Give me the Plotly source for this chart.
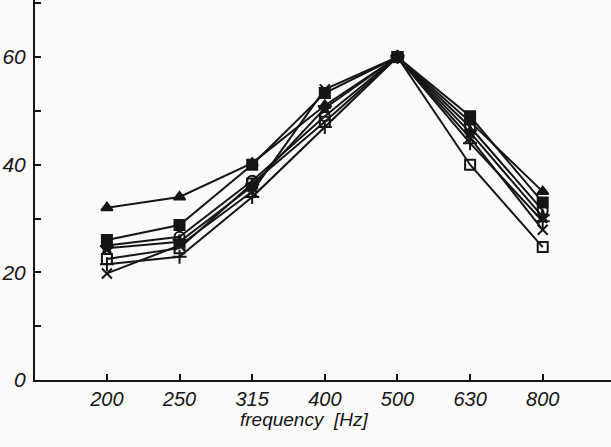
import plotly.graph_objects as go

freqs = ["200", "250", "315", "400", "500", "630", "800"]

s_triangle = [32.0, 34.0, 40.3, 51.0, 60.0, 48.0, 35.0]
s_square = [26.0, 28.8, 40.0, 53.3, 60.0, 49.0, 33.0]
s_circle = [25.0, 26.6, 37.0, 49.0, 60.0, 47.0, 31.5]
s_star = [24.5, 25.7, 36.0, 50.5, 60.0, 46.0, 30.3]
s_cross = [19.8, 25.0, 35.0, 54.0, 60.0, 45.0, 27.9]
s_plus = [21.5, 22.9, 34.0, 47.0, 60.0, 44.0, 29.5]
s_opensq = [22.5, 24.5, 36.5, 48.0, 60.0, 40.0, 24.7]

series = [
    (s_triangle, "triangle-up"),
    (s_square, "square"),
    (s_circle, "circle-open"),
    (s_star, "star"),
    (s_cross, "x-thin"),
    (s_plus, "cross-thin"),
    (s_opensq, "square-open"),
]

fig = go.Figure()
for vals, sym in series:
    fig.add_trace(go.Scatter(
        x=freqs, y=vals, mode="lines+markers",
        line=dict(color="#151515", width=2),
        marker=dict(symbol=sym, size=10, color="#151515",
                    line=dict(color="#151515", width=2)),
        showlegend=False,
    ))

font_it = dict(family="Liberation Sans, Arial, sans-serif", size=17,
               color="#151515", style="italic")

fig.update_layout(
    width=611, height=447,
    margin=dict(l=35, r=0, t=0, b=67),
    paper_bgcolor="#fafaf8", plot_bgcolor="#fafaf8",
    xaxis=dict(
        type="category", range=[-0.99, 6.94],
        showgrid=False, zeroline=False,
        showline=True, linecolor="#151515", linewidth=2,
        ticks="inside", ticklen=6, tickwidth=1.5, tickcolor="#151515",
        tickfont=dict(font_it, size=20),
    ),
    yaxis=dict(
        range=[0, 70.6], tickvals=[0, 20, 40, 60],
        showgrid=False, zeroline=False,
        showline=True, linecolor="#151515", linewidth=2,
        ticks="inside", ticklen=6, tickwidth=1.5, tickcolor="#151515",
        minor=dict(tickvals=[10, 30, 50, 70], ticks="inside", ticklen=6,
                   tickwidth=1.5, tickcolor="#151515"),
        tickfont=dict(font_it, size=21),
        ticklabelstandoff=3,
    ),
    annotations=[dict(
        text="frequency  [Hz]", xref="paper", yref="paper",
        x=0.467, y=0, yshift=-39, xanchor="center", yanchor="middle",
        showarrow=False, font=dict(font_it, size=19),
    )],
)

fig.write_html("out.html")
